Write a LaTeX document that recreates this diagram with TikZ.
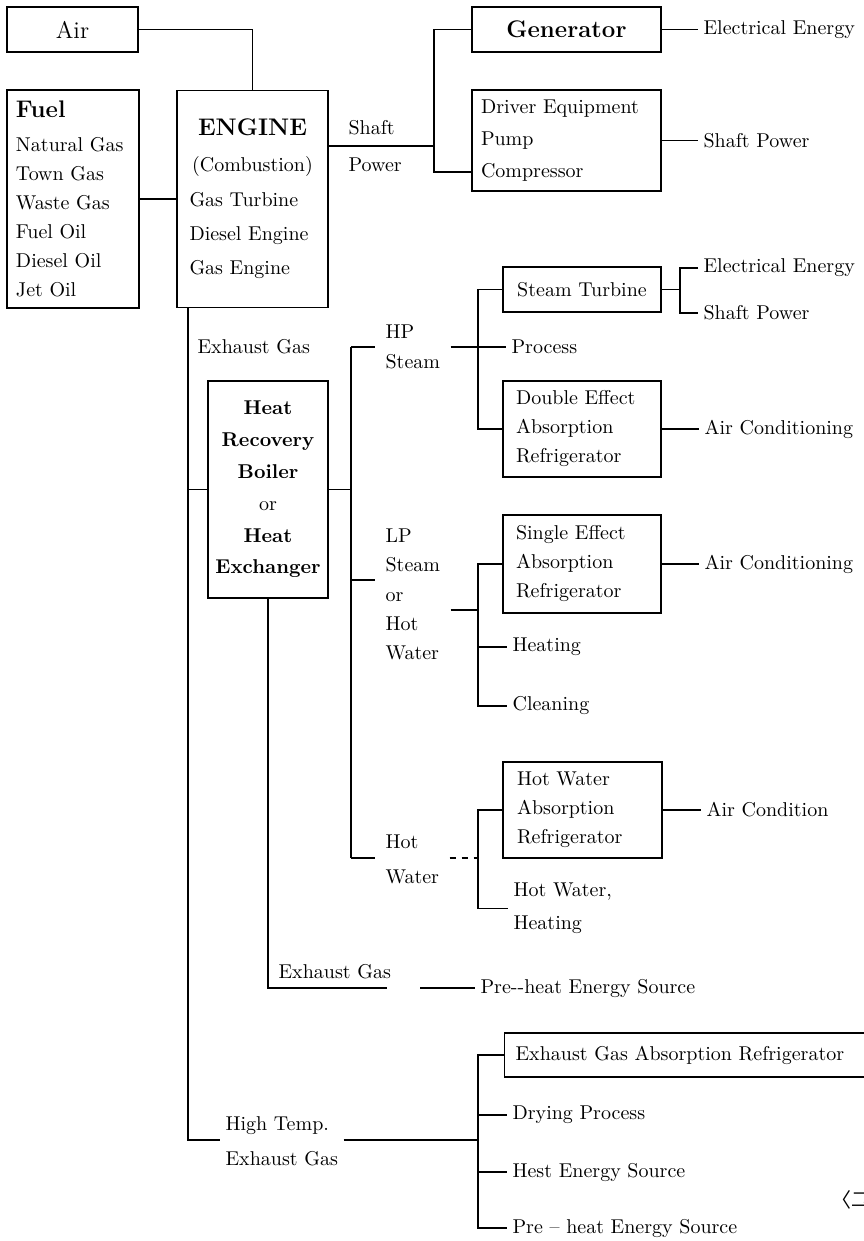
\documentclass[tikz,border=0pt]{standalone}
\usepackage{fontspec}
\newfontfamily\cjkfont{Noto Sans CJK KR}
\usepackage{tikz}

\begin{document}
\begin{tikzpicture}[x=0.5pt, y=-0.5pt, line width=0.6pt,
                box/.style={draw, inner sep=0pt, font=\normalsize},
                txt/.style={inner sep=2.5pt, anchor=west, align=left},
                flow/.style={inner xsep=5pt, inner ysep=2pt, anchor=west, align=left}]
                \useasboundingbox (0,0) rectangle (863,1241);

                \node[box, minimum width=65.5pt, minimum height=22.5pt, font=\large] (air) at (72.5,29.5) {Air};
                \node[box, minimum width=66pt, minimum height=109pt, text width=57pt, align=left] (fuel) at (73,199)
                    {{\large\bfseries Fuel}\\[5pt]Natural Gas\\[2.5pt]Town Gas\\[2.5pt]Waste Gas\\[2.5pt]Fuel Oil\\[2.5pt]Diesel Oil\\[2.5pt]Jet Oil};
                \node[box, minimum width=75.5pt, minimum height=108.5pt, align=center] (engine) at (252.5,199)
                    {{\large\bfseries ENGINE}\\[6pt](Combustion)\\[5.2pt]\makebox[63pt][l]{Gas Turbine}\\[5.2pt]\makebox[63pt][l]{Diesel Engine}\\[5.2pt]\makebox[63pt][l]{Gas Engine}};
                \node[box, minimum width=94.5pt, minimum height=22.5pt, font=\large\bfseries] (gen) at (566.5,29.5) {Generator};
                \node[box, minimum width=94.5pt, minimum height=50.5pt, text width=85.5pt, align=left] (drive) at (566.5,140.5)
                    {Driver Equipment\\[4pt]Pump\\[4pt]Compressor};
                \node[box, minimum width=79pt, minimum height=22.5pt] (st) at (582,289.5) {Steam Turbine};
                \node[box, minimum width=79pt, minimum height=48pt, text width=66pt, align=left] (dbl) at (582,429)
                    {Double Effect\\[2.5pt]Absorption\\[2.5pt]Refrigerator};
                \node[box, minimum width=79pt, minimum height=49pt, text width=66pt, align=left] (sgl) at (582,564)
                    {Single Effect\\[2.5pt]Absorption\\[2.5pt]Refrigerator};
                \node[box, minimum width=79.5pt, minimum height=48pt, text width=65.5pt, align=left] (hw) at (582.5,810)
                    {Hot Water\\[2.5pt]Absorption\\[2.5pt]Refrigerator};
                \node[box, minimum width=60pt, minimum height=108.5pt, align=center, font=\bfseries] (hrb) at (268,489.5)
                    {Heat\\[3.9pt]Recovery\\[3.9pt]Boiler\\[3.9pt]{\mdseries or}\\[3.9pt]Heat\\[3.9pt]Exchanger};
                \node[box, minimum width=200pt, minimum height=22pt, text width=189pt, align=left, anchor=west] (ega) at (504,1055)
                    {Exhaust Gas Absorption Refrigerator};

                \node[txt] (elec1)    at (698,29.5)  {Electrical Energy};
                \node[txt] (shaft1)   at (698,140.5) {Shaft Power};
                \node[txt] (shaftpw)  at (343,146)   {Shaft\\[6.5pt]Power};
                \node[txt] (elec2)    at (698,268)   {Electrical Energy};
                \node[txt] (shaft2)   at (698,313)   {Shaft Power};
                \node[txt] (proc)     at (506,347)   {Process};
                \node[txt] (ac1)      at (699,429)   {Air Conditioning};
                \node[txt] (ac2)      at (699,564)   {Air Conditioning};
                \node[txt] (heat)     at (507,647)   {Heating};
                \node[txt] (clean)    at (507,706)   {Cleaning};
                \node[txt] (acond)    at (701,810)   {Air Condition};
                \node[txt] (hwh)      at (508,908.5) {Hot Water,\\[4.5pt]Heating};
                \node[txt] (exh1)     at (192,347)   {Exhaust Gas};
                \node[txt] (exh2)     at (273,972)   {Exhaust Gas};
                \node[txt] (preh1)    at (475,988)   {Pre-{}-heat Energy Source};
                \node[txt] (hightemp) at (220,1141)  {High Temp.\\[5.5pt]Exhaust Gas};
                \node[txt] (drying)   at (507,1115)  {Drying Process};
                \node[txt] (hest)     at (507,1172)  {Hest Energy Source};
                \node[txt] (preh2)    at (507,1228)  {Pre -- heat Energy Source};
                \node[flow] (hp)      at (375,347)   {HP\\[3pt]Steam};
                \node[flow] (lp)      at (375,594.5) {LP\\[2.6pt]Steam\\[2.6pt]or\\[2.6pt]Hot\\[2.6pt]Water};
                \node[flow] (hotw)    at (375,859.5) {Hot\\[5.5pt]Water};
                \node[txt, font=\cjkfont] (fig) at (826,1200) {〈그};

                \coordinate (sbus) at (434,146);
                \coordinate (ex)   at (188,1140);
                \coordinate (hpb)  at (351,347);
                \coordinate (lpb)  at (351,580);
                \coordinate (hwb)  at (351,858);
                \coordinate (hpr)  at (478,347);
                \coordinate (stf)  at (680,289.5);
                \coordinate (lpr)  at (478,610);
                \coordinate (hwr)  at (478,858);
                \coordinate (htb)  at (478,1140);
                \coordinate (gapa) at (387,988);
                \coordinate (gapb) at (420,988);

                \draw (air.east) -| (engine.north);
                \draw (fuel.east) -- (engine.west);
                \draw (engine.east |- sbus) -- (sbus);
                \draw (gen.west) -| (sbus) |- ([yshift=-15.75pt]drive.west);
                \draw (gen.east) -- (elec1.west);
                \draw (drive.east) -- (shaft1.west);
                \draw (engine.south -| ex) -- (ex) -- (ex -| hightemp.west);
                \draw (hrb.west -| ex) -- (hrb.west);
                \draw (hrb.south) |- (gapa);
                \draw (gapb) -- (preh1.west);
                \draw (hrb.east) -- (hrb.east -| hpb);
                \draw (hpb) -- (hwb);
                \draw (hpb) -- (hp.west);
                \draw (lpb) -- (lpb -| lp.west);
                \draw (hwb) -- (hwb -| hotw.west);
                \draw (hp.east) -- (proc.west);
                \draw (st.west) -| (hpr) |- (dbl.west);
                \draw (st.east) -- (stf);
                \draw (elec2.west) -| (stf) |- (shaft2.west);
                \draw (dbl.east) -- (ac1.west);
                \draw (lp.east |- lpr) -- (lpr);
                \draw (sgl.west) -| (lpr) |- (clean.west);
                \draw (lpr |- heat.west) -- (heat.west);
                \draw (sgl.east) -- (ac2.west);
                \draw[dashed] (hotw.east |- hwr) -- (hwr);
                \draw (hw.west) -| (hwr) |- (hwh.west);
                \draw (hw.east) -- (acond.west);
                \draw (hightemp.east |- htb) -- (htb);
                \draw (ega.west) -| (htb) |- (preh2.west);
                \draw (htb |- drying.west) -- (drying.west);
                \draw (htb |- hest.west) -- (hest.west);
            \end{tikzpicture}
\end{document}
